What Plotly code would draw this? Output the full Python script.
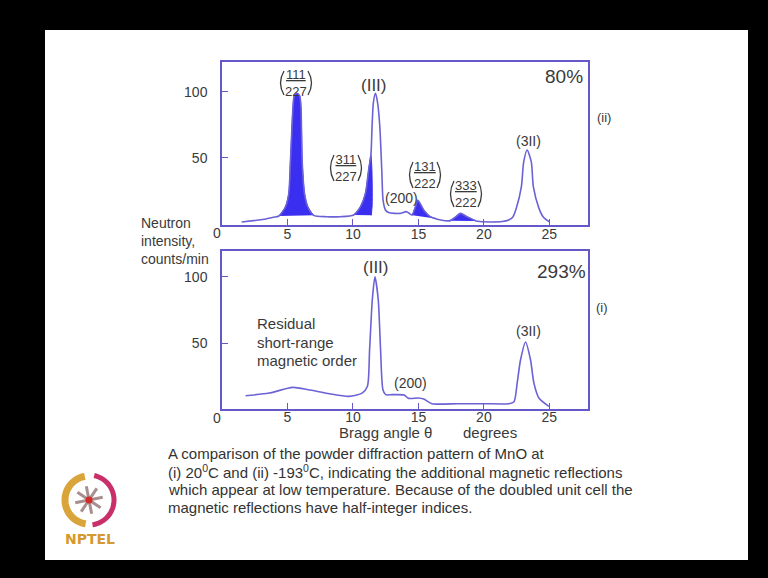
import math
import plotly.graph_objects as go

W, H = 768, 578

# ---------------- data ----------------
# (ii) -193 C pattern : outline
ii_x = [1.5, 2.4, 3.2, 3.9, 4.35, 4.85, 5.1, 5.23, 5.42, 5.52, 5.72, 5.93, 6.03, 6.12, 6.3, 6.55, 7.0, 8.0, 9.0,
        10.06, 10.57, 10.95, 11.2, 11.37, 11.46, 11.56, 11.72, 11.88, 12.05, 12.2, 12.3, 12.48, 12.73, 13.2, 13.6,
        14.1, 14.5, 14.77, 14.95, 15.1, 15.4, 15.9, 16.7, 17.44, 17.8, 18.2, 18.7, 19.35, 19.7, 20.5, 21.4, 21.9,
        22.2, 22.48, 22.86, 23.04, 23.3, 23.62, 23.78, 24.2, 24.55, 25.0]
ii_y = [1.5, 2.5, 3.5, 5.0, 6.0, 13, 23, 48, 88, 97, 99, 97, 88, 48, 23, 13, 6.5, 5.5, 5.5,
        6.8, 13, 23, 41, 52, 74, 92, 99, 92, 74, 41, 18, 10.6, 8.6, 8.0, 8.0,
        9.3, 6.8, 13, 18, 16, 10.6, 5.5, 3.0, 2.5, 5.0, 8.0, 5.5, 2.5, 1.8, 1.5, 1.8, 3.0,
        5.0, 12, 28, 47, 56, 47, 28, 12, 5.0, 1.5]

# magnetic (half-integer) reflections, filled
m1_x = [4.35, 4.85, 5.1, 5.23, 5.42, 5.52, 5.72, 5.93, 6.03, 6.12, 6.3, 6.55, 7.0]
m1_y = [6.0, 13, 23, 48, 88, 97, 99, 97, 88, 48, 23, 13, 6.5]
m2_x = [10.06, 10.57, 10.95, 11.2, 11.37, 11.45, 11.47, 11.4]
m2_y = [6.8, 13, 23, 41, 52, 40, 15, 6.5]
m3_x = [14.55, 14.77, 14.95, 15.1, 15.4, 15.9, 16.4]
m3_y = [6.5, 13, 18, 16, 10.6, 5.5, 4.0]
m4_x = [17.4, 17.8, 18.2, 18.7, 19.4]
m4_y = [2.5, 5.0, 8.0, 5.5, 2.3]

# (i) 20 C pattern
i_x = [1.8, 3.6, 5.4, 6.6, 8.2, 9.7, 10.7, 11.1, 11.27, 11.48, 11.68, 11.93, 12.11, 12.29, 12.5, 13.0, 13.9,
       14.25, 15.0, 15.4, 16.05, 18.0, 20.0, 21.9, 22.3, 22.54, 22.8, 23.18, 23.56, 23.82, 24.2, 24.96]
i_y = [10.5, 12.5, 16.8, 15.0, 12.0, 10.0, 12.5, 17.5, 45, 83, 100, 83, 45, 15, 11.3, 11.3, 11.0,
       8.5, 8.8, 8.0, 4.5, 4.5, 4.5, 4.5, 6.0, 20, 37.6, 51, 37.6, 20, 8.8, 2.5]

x_ticks = [5, 10, 15, 20, 25]
y_ticks = [50, 100]

# ---------------- styling ----------------
LINE = '#6a62d6'
FRAME = '#6559c9'
FILL = '#3a2ef0'
TXT = '#3a3a3a'
FONT = 'Liberation Sans, Arial, sans-serif'

fig = go.Figure()

def curve(x, y, ax):
    fig.add_trace(go.Scatter(x=x, y=y, mode='lines', line=dict(color=LINE, width=1.6, shape='spline', smoothing=0.7),
                             xaxis='x' + ax, yaxis='y' + ax, hoverinfo='skip', showlegend=False))

def fillpk(x, y):
    fig.add_trace(go.Scatter(x=x, y=y, mode='lines', fill='toself', fillcolor=FILL,
                             line=dict(color=FILL, width=1, shape='spline', smoothing=0.7),
                             xaxis='x', yaxis='y', hoverinfo='skip', showlegend=False))

for fx, fy in [(m1_x, m1_y), (m2_x, m2_y), (m3_x, m3_y), (m4_x, m4_y)]:
    fillpk(fx, fy)
curve(ii_x, ii_y, '')
curve(i_x, i_y, '2')

def px2paper(px, py):
    return px / W, 1 - py / H

xd = [222 / W, 588 / W]
ax_common = dict(showline=True, linecolor=FRAME, linewidth=1.5, mirror=True, showgrid=False, zeroline=False,
                 ticks='inside', tickcolor=FRAME, ticklen=6, tickwidth=1.2,
                 tickfont=dict(family=FONT, size=14, color=TXT))

fig.update_layout(
    width=W, height=H, margin=dict(l=0, r=0, t=0, b=0),
    paper_bgcolor='black', plot_bgcolor='white', showlegend=False,
    xaxis=dict(domain=xd, range=[0, 27.95], tickvals=x_ticks, anchor='y', ticklabelstandoff=-5, **ax_common),
    yaxis=dict(domain=[1 - 225 / H, 1 - 62 / H], range=[-0.8, 122.7], tickvals=y_ticks, anchor='x',
               ticklabelstandoff=10, **ax_common),
    xaxis2=dict(domain=xd, range=[0, 27.95], tickvals=x_ticks, anchor='y2', ticklabelstandoff=-6, **ax_common),
    yaxis2=dict(domain=[1 - 409 / H, 1 - 251 / H], range=[0.5, 119.5], tickvals=y_ticks, anchor='x2',
                ticklabelstandoff=10, **ax_common),
)

shapes = []
# white slide
shapes.append(dict(type='rect', xref='paper', yref='paper', x0=45 / W, x1=748 / W, y0=1 - 560 / H, y1=1 - 30 / H,
                   fillcolor='white', line=dict(width=0), layer='below'))

annotations = []

def ann(px, py, text, size=14, xanchor='center', color=TXT, family=FONT, **kw):
    x, y = px2paper(px, py)
    annotations.append(dict(x=x, y=y, xref='paper', yref='paper', text=text, showarrow=False,
                            xanchor=xanchor, yanchor='middle', font=dict(family=family, size=size, color=color), **kw))

def pp(px, py):
    x, y = px2paper(px, py)
    return f'{x:.5f},{y:.5f}'

def frac_label(cx, cy, num, den, size=13, half=11, ph=13):
    ann(cx, cy, f'<u>{num}</u><br>{den}', size)
    # hand-drawn parentheses
    lx, rx = cx - half - 4, cx + half + 4
    shapes.append(dict(type='path', xref='paper', yref='paper',
                       path=f'M {pp(lx + 3, cy - ph)} Q {pp(lx - 4, cy)} {pp(lx + 3, cy + ph)}',
                       line=dict(color=TXT, width=1.3)))
    shapes.append(dict(type='path', xref='paper', yref='paper',
                       path=f'M {pp(rx - 3, cy - ph)} Q {pp(rx + 4, cy)} {pp(rx - 3, cy + ph)}',
                       line=dict(color=TXT, width=1.3)))

# top panel labels
frac_label(296, 83, '111', '227', ph=12)
frac_label(346, 168, '311', '227')
frac_label(425, 175, '131', '222')
frac_label(466, 194, '333', '222')
ann(374, 85, '(III)', 17)
ann(401, 198, '(200)', 14)
ann(528, 141, '(3II)', 14)
ann(564, 76, '80%', 19)
ann(604, 117, '(ii)', 13)
ann(217, 233, '0', 14)

# bottom panel labels
ann(376, 267, '(III)', 17)
ann(561, 271, '293%', 19)
ann(602, 308, '(i)', 13)
ann(410, 383, '(200)', 14)
ann(528, 331, '(3II)', 14)
ann(255, 323, 'Residual', 15, xanchor='left')
ann(255, 342, 'short-range', 15, xanchor='left')
ann(255, 360, 'magnetic order', 15, xanchor='left')
ann(217, 418, '0', 14)
ann(385, 432, 'Bragg angle θ', 15)
ann(490, 432, 'degrees', 15)

# y-axis title
ann(139, 223, 'Neutron', 14, xanchor='left')
ann(139, 241, 'intensity,', 14, xanchor='left')
ann(139, 259, 'counts/min', 14, xanchor='left')

# caption
cap = ['A comparison of the powder diffraction pattern of MnO at',
       '(i) 20<sup>0</sup>C and (ii) -193<sup>0</sup>C, indicating the additional magnetic reflections',
       'which appear at low temperature. Because of the doubled unit cell the',
       'magnetic reflections have half-integer indices.']
for k, line in enumerate(cap):
    ann(166, 453 + 18 * k, line, 15, xanchor='left', color='#333333')

# NPTEL logo (decoration)
cx, cy = 89, 500
def arc_path(r, a0, a1, n=40):
    pts = []
    for k in range(n + 1):
        a = math.radians(a0 + (a1 - a0) * k / n)
        pts.append(pp(cx + r * math.cos(a), cy - r * math.sin(a)))
    return 'M ' + ' L '.join(pts)

shapes.append(dict(type='path', xref='paper', yref='paper', path=arc_path(24, 100, 262),
                   line=dict(color='#d9a43a', width=7)))
shapes.append(dict(type='path', xref='paper', yref='paper', path=arc_path(25, -82, 78),
                   line=dict(color='#c9306a', width=5)))
for k in range(8):
    a = math.radians(k * 45 + 11)
    x0, y0 = px2paper(cx, cy)
    x1, y1 = px2paper(cx + 14 * math.cos(a), cy - 14 * math.sin(a))
    shapes.append(dict(type='line', xref='paper', yref='paper', x0=x0, y0=y0, x1=x1, y1=y1,
                       line=dict(color='#a88f8f', width=3)))
x0, y0 = px2paper(cx - 3.5, cy + 3.5)
x1, y1 = px2paper(cx + 3.5, cy - 3.5)
shapes.append(dict(type='circle', xref='paper', yref='paper', x0=x0, y0=y0, x1=x1, y1=y1,
                   fillcolor='#d42a2a', line=dict(width=0)))
ann(90, 539, '<b>NPTEL</b>', 14, color='#d49a30', family='DejaVu Sans, sans-serif')

fig.update_layout(shapes=shapes, annotations=annotations)
fig.write_html('out.html', config={'displayModeBar': False},
               post_script="document.body.style.margin='0px';document.body.style.padding='0px';"
                           "document.body.style.background='black';")
